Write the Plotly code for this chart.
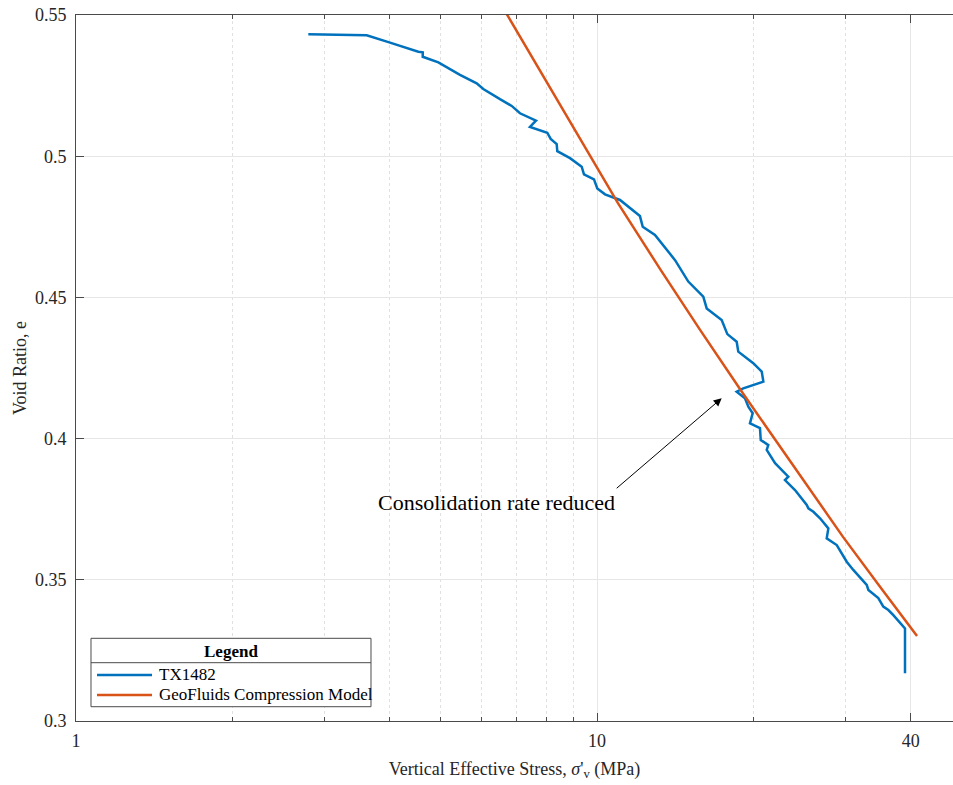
import plotly.graph_objects as go

# TX1482 measured curve (stress MPa, void ratio)
tx_stress = [2.792, 3.614, 4.006, 4.540, 4.629, 4.629, 4.960, 5.458, 5.876, 6.050,
             6.513, 6.859, 7.115, 7.636, 7.436, 8.027, 8.149, 8.368, 8.390, 8.875,
             9.346, 9.441, 9.868, 10.013, 10.360, 11.07, 12.09, 12.24, 12.92, 14.12,
             14.97, 15.996, 16.24, 17.35, 17.79, 18.54, 18.67, 19.95, 20.71, 20.86,
             19.09, 18.54, 19.23, 19.52, 19.90, 19.66, 20.55, 20.62, 21.32, 21.17,
             21.97, 23.29, 22.95, 23.99, 25.27, 25.45, 26.02, 26.80, 27.80, 27.60,
             28.85, 29.70, 30.15, 31.04, 32.94, 33.18, 34.67, 35.44, 36.24, 37.05,
             39.01, 39.01]
tx_void = [0.5432, 0.5428, 0.5402, 0.5370, 0.5368, 0.5352, 0.5332, 0.5288, 0.5258, 0.5238,
           0.5202, 0.5178, 0.5152, 0.5126, 0.5104, 0.5083, 0.5061, 0.5043, 0.5018, 0.4993,
           0.4963, 0.4936, 0.4918, 0.4886, 0.4865, 0.4845, 0.4788, 0.4750, 0.4721, 0.4632,
           0.4556, 0.4503, 0.4461, 0.4420, 0.4370, 0.4343, 0.4308, 0.4267, 0.4237, 0.4202,
           0.4178, 0.4166, 0.4143, 0.4113, 0.4090, 0.4054, 0.4037, 0.3995, 0.3977, 0.3960,
           0.3913, 0.3865, 0.3853, 0.3818, 0.3765, 0.3753, 0.3741, 0.3718, 0.3682, 0.3647,
           0.3623, 0.3582, 0.3564, 0.3535, 0.3482, 0.3464, 0.3435, 0.3405, 0.3393, 0.3375,
           0.3328, 0.3169]

# GeoFluids compression model
gf_stress = [6.658, 7.776, 9.073, 10.97, 13.21, 15.77, 18.98, 23.46, 29.66, 34.93, 41.14]
gf_void = [0.5514, 0.5302, 0.5093, 0.4834, 0.4601, 0.4385, 0.4165, 0.3921, 0.3652, 0.3475, 0.3301]

x_major = [1, 10, 40]
x_major_labels = ["1", "10", "40"]
x_minor = [2, 3, 4, 5, 6, 7, 8, 9, 20, 30]
y_ticks = [0.3, 0.35, 0.4, 0.45, 0.5, 0.55]
y_labels = ["0.3", "0.35", "0.4", "0.45", "0.5", "0.55"]

names = ["TX1482", "GeoFluids Compression Model"]
colors = ["#0072BD", "#D95319"]

FONT = "Liberation Serif"
AX = "#4a4a4a"

fig = go.Figure()
fig.add_trace(go.Scatter(x=tx_stress, y=tx_void, mode="lines", name=names[0],
                         line=dict(color=colors[0], width=2.5), showlegend=False))
fig.add_trace(go.Scatter(x=gf_stress, y=gf_void, mode="lines", name=names[1],
                         line=dict(color=colors[1], width=2.5), showlegend=False))

fig.update_xaxes(type="log", range=[0, 1.6833], tickvals=x_major, ticktext=x_major_labels,
                 automargin=False, ticklabelstandoff=3,
                 ticks="inside", ticklen=8, tickcolor=AX, showline=True, linecolor=AX,
                 linewidth=1, mirror="ticks", showgrid=True, gridcolor="#e6e6e6",
                 zeroline=False, tickfont=dict(family=FONT, size=18, color="#262626"),
                 minor=dict(tickvals=x_minor, ticks="inside", ticklen=4, tickcolor=AX,
                            showgrid=True, gridcolor="#e0e0e0", griddash="dot"),
                 title=dict(text="Vertical Effective Stress, <i>σ</i>'<sub>v</sub> (MPa)",
                            font=dict(family=FONT, size=18, color="#262626"), standoff=12))
fig.update_yaxes(range=[0.3, 0.55], tickvals=y_ticks, ticktext=y_labels,
                 automargin=False, ticklabelstandoff=5,
                 ticks="inside", ticklen=8, tickcolor=AX, showline=True, linecolor=AX,
                 linewidth=1, mirror=False, showgrid=True, gridcolor="#e6e6e6",
                 zeroline=False, tickfont=dict(family=FONT, size=18, color="#262626"),
                 title=dict(text="Void Ratio, e", font=dict(family=FONT, size=18, color="#262626"),
                            standoff=3))

# annotation text with arrow (tail at the text's top-right corner)
fig.add_annotation(x=1.23935, y=0.4143, xref="x", yref="y", text="Consolidation rate reduced",
                   showarrow=True, ax=-105, ay=90, xanchor="right", yanchor="top",
                   arrowhead=2, arrowsize=1.6, arrowwidth=1, arrowcolor="#000",
                   font=dict(family=FONT, size=22, color="#000"))

# legend drawn in paper coords
shapes = [
    dict(type="rect", xref="paper", yref="paper", x0=0.01710, x1=0.33637, y0=0.02025, y1=0.11714,
         line=dict(color="#4a4a4a", width=1), fillcolor="white", layer="above"),
    dict(type="line", xref="paper", yref="paper", x0=0.01710, x1=0.33637, y0=0.08258, y1=0.08258,
         line=dict(color="#4a4a4a", width=1), layer="above"),
]
entry_y = [0.06516, 0.03683]
for i in range(2):
    shapes.append(dict(type="line", xref="paper", yref="paper", x0=0.02395, x1=0.08666,
                       y0=entry_y[i], y1=entry_y[i], line=dict(color=colors[i], width=2.5),
                       layer="above"))
    fig.add_annotation(x=0.09236, y=entry_y[i], xref="paper", yref="paper", text=names[i],
                       showarrow=False, xanchor="left", yanchor="middle",
                       font=dict(family=FONT, size=17, color="#000"))
fig.add_annotation(x=0.17674, y=0.09915, xref="paper", yref="paper", text="<b>Legend</b>",
                   showarrow=False, xanchor="center", yanchor="middle",
                   font=dict(family=FONT, size=17, color="#000"))
fig.update_layout(shapes=shapes)

fig.update_layout(width=953, height=785, margin=dict(l=76, r=0, t=15, b=64),
                  plot_bgcolor="white", paper_bgcolor="white",
                  font=dict(family=FONT))
fig.write_html("out.html", config={"displayModeBar": False},
               post_script="document.body.style.margin='0';document.body.style.overflow='hidden';")
